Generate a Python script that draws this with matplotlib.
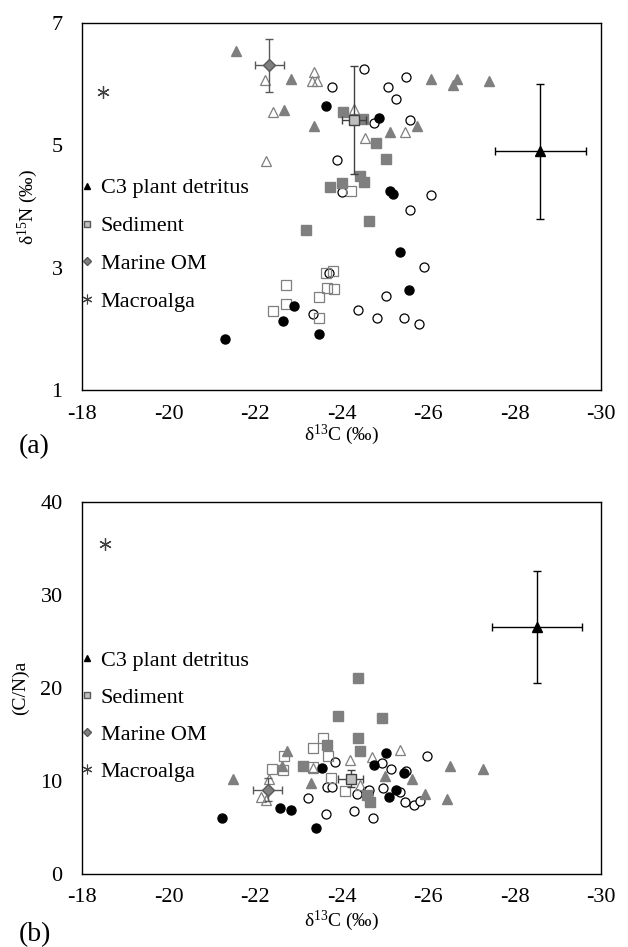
import matplotlib.pyplot as plt
from matplotlib.lines import Line2D

plt.rcParams['font.family'] = ['Liberation Serif', 'DejaVu Serif']
plt.rcParams['mathtext.fontset'] = 'custom'
plt.rcParams['mathtext.rm'] = 'Liberation Serif'
plt.rcParams['mathtext.it'] = 'Liberation Serif:italic'
plt.rcParams['axes.unicode_minus'] = False

# ---- panel (a): d13C vs d15N ----
a_tri_fill_x = [-21.55, -22.83, -22.67, -23.36, -26.06, -26.66, -26.57, -27.41, -25.12, -25.74]
a_tri_fill_y = [6.55, 6.08, 5.57, 5.31, 6.08, 6.09, 5.98, 6.06, 5.22, 5.31]
a_tri_open_x = [-22.22, -23.36, -23.31, -23.43, -22.41, -22.25, -24.29, -25.47, -24.54]
a_tri_open_y = [6.07, 6.20, 6.05, 6.05, 5.54, 4.74, 5.60, 5.22, 5.12]
a_sq_fill_x = [-24.03, -24.49, -24.80, -25.03, -24.43, -24.52, -23.73, -24.00, -24.64, -23.18]
a_sq_fill_y = [5.55, 5.43, 5.04, 4.78, 4.50, 4.40, 4.32, 4.39, 3.77, 3.62]
a_sq_open_x = [-24.21, -23.64, -23.80, -22.72, -23.67, -23.83, -23.47, -22.72, -22.42, -23.47]
a_sq_open_y = [4.26, 2.92, 2.95, 2.71, 2.66, 2.65, 2.52, 2.40, 2.29, 2.17]
a_ci_fill_x = [-23.63, -24.87, -25.12, -25.18, -25.35, -25.55, -22.90, -22.64, -23.49, -21.31]
a_ci_fill_y = [5.65, 5.45, 4.25, 4.21, 3.25, 2.63, 2.37, 2.12, 1.92, 1.83]
a_ci_open_x = [-23.77, -24.51, -25.48, -25.07, -25.25, -24.76, -25.58, -23.89, -24.02, -26.08,
               -25.59, -25.91, -23.70, -25.03, -23.33, -24.39, -24.83, -25.44, -25.79, -24.64]
a_ci_open_y = [5.95, 6.25, 6.11, 5.95, 5.76, 5.37, 5.42, 4.76, 4.24, 4.19,
               3.95, 3.01, 2.92, 2.54, 2.24, 2.30, 2.17, 2.18, 2.08, 3.77]
# end members: x, y, xerr, yerr
a_c3 = [-28.6, 4.9, 1.05, 1.1]
a_sed = [-24.29, 5.41, 0.27, 0.88]
a_mom = [-22.33, 6.31, 0.33, 0.43]
a_alga = [-18.48, 5.87]

# ---- panel (b): d13C vs (C/N)a ----
b_tri_fill_x = [-21.50, -22.75, -22.62, -23.29, -25.00, -25.62, -25.93, -26.43, -26.52, -27.28]
b_tri_fill_y = [10.19, 13.23, 11.63, 9.84, 10.55, 10.27, 8.56, 8.06, 11.63, 11.26]
b_tri_open_x = [-22.33, -22.13, -22.25, -23.35, -24.20, -24.43, -24.70, -25.35]
b_tri_open_y = [10.27, 8.31, 8.00, 11.40, 12.23, 9.56, 12.59, 13.30]
b_sq_fill_x = [-24.37, -23.93, -24.93, -24.39, -23.66, -24.43, -23.12, -24.58, -24.67]
b_sq_fill_y = [21.04, 17.04, 16.79, 14.62, 13.90, 13.19, 11.63, 8.48, 7.70]
b_sq_open_x = [-22.39, -22.66, -22.64, -23.58, -23.35, -23.69, -23.35, -23.75, -24.08]
b_sq_open_y = [11.26, 12.69, 11.16, 14.62, 13.55, 12.69, 11.52, 10.34, 8.91]
b_ci_fill_x = [-21.24, -22.58, -22.83, -23.41, -23.56, -24.75, -25.02, -25.45, -25.25, -25.10]
b_ci_fill_y = [6.06, 7.13, 6.88, 4.95, 11.41, 11.76, 13.02, 10.91, 9.02, 8.31]
b_ci_open_x = [-23.23, -23.66, -23.77, -23.85, -24.35, -24.58, -24.62, -23.64, -24.29, -24.72,
               -25.97, -24.93, -25.14, -25.49, -24.97, -24.64, -25.35, -25.47, -25.68, -25.82]
b_ci_open_y = [8.20, 9.38, 9.38, 12.05, 8.56, 8.91, 8.66, 6.45, 6.77, 5.99,
               12.69, 11.95, 11.34, 11.09, 9.30, 9.02, 8.77, 7.70, 7.41, 7.84]
b_c3 = [-28.52, 26.56, 1.05, 6.0]
b_sed = [-24.21, 10.27, 0.28, 0.9]
b_mom = [-22.29, 9.09, 0.33, 1.2]
b_alga = [-18.53, 35.5]

GRAY = '#7f7f7f'
fig = plt.figure(figsize=(6.28, 9.47), dpi=100)
ax1 = fig.add_axes([0.1306, 0.5882, 0.8264, 0.3875])
ax2 = fig.add_axes([0.1306, 0.077, 0.8264, 0.393])


def draw(ax, d):
    ms = 6.5
    ax.plot(d['ci_open'][0], d['ci_open'][1], 'o', ls='none', mfc='white', mec='black', mew=0.9, ms=ms)
    ax.plot(d['sq_open'][0], d['sq_open'][1], 's', ls='none', mfc='none', mec=GRAY, mew=0.9, ms=ms)
    ax.plot(d['tri_open'][0], d['tri_open'][1], '^', ls='none', mfc='none', mec=GRAY, mew=0.9, ms=ms + 0.5)
    ax.plot(d['sq_fill'][0], d['sq_fill'][1], 's', ls='none', mfc=GRAY, mec=GRAY, ms=ms)
    ax.plot(d['tri_fill'][0], d['tri_fill'][1], '^', ls='none', mfc=GRAY, mec=GRAY, ms=ms)
    ax.plot(d['ci_fill'][0], d['ci_fill'][1], 'o', ls='none', mfc='black', mec='black', ms=ms)
    c3, sed, mom, alga = d['c3'], d['sed'], d['mom'], d['alga']
    ax.errorbar(c3[0], c3[1], xerr=c3[2], yerr=c3[3], fmt='^', color='black', ms=7,
                elinewidth=1, capsize=3, capthick=1)
    ax.errorbar(sed[0], sed[1], xerr=sed[2], yerr=sed[3], fmt='s', mfc='#bfbfbf', mec='#404040',
                ecolor='#404040', ms=7, elinewidth=1, capsize=3, capthick=1)
    ax.errorbar(mom[0], mom[1], xerr=mom[2], yerr=mom[3], fmt='D', mfc=GRAY, mec='#595959',
                ecolor='#595959', ms=6, elinewidth=1, capsize=3, capthick=1)
    ax.plot(alga[0], alga[1], marker=(6, 2, 0), color='#404040', ms=9, mew=0.9, ls='none')
    ax.set_xlim(-18, -30)
    ax.set_xticks([-18, -20, -22, -24, -26, -28, -30])
    ax.tick_params(length=0, labelsize=16)
    ax.tick_params(axis='y', pad=14)
    ax.tick_params(axis='x', pad=d['xpad'])
    for s in ax.spines.values():
        s.set_linewidth(1)
    handles = [
        Line2D([], [], marker='^', ls='none', color='black', ms=5),
        Line2D([], [], marker='s', ls='none', mfc='#bfbfbf', mec='#595959', ms=5),
        Line2D([], [], marker='D', ls='none', mfc=GRAY, mec='#595959', ms=4.5),
        Line2D([], [], marker=(6, 2, 0), ls='none', color='#404040', ms=7, mew=0.8),
    ]
    ax.legend(handles, ['C3 plant detritus', 'Sediment', 'Marine OM', 'Macroalga'],
              loc='center left', bbox_to_anchor=(-0.02, d['leg_y']), frameon=False, fontsize=16,
              handlelength=0.6, handletextpad=0.3, labelspacing=d['leg_sp'], borderaxespad=0)


draw(ax1, dict(tri_fill=(a_tri_fill_x, a_tri_fill_y), tri_open=(a_tri_open_x, a_tri_open_y),
               sq_fill=(a_sq_fill_x, a_sq_fill_y), sq_open=(a_sq_open_x, a_sq_open_y),
               ci_fill=(a_ci_fill_x, a_ci_fill_y), ci_open=(a_ci_open_x, a_ci_open_y),
               c3=a_c3, sed=a_sed, mom=a_mom, alga=a_alga, leg_y=0.395, leg_sp=0.78, xpad=11))
ax1.set_ylim(1, 7)
ax1.set_yticks([1, 3, 5, 7])
ax1.set_ylabel(r'δ$^{15}$N (‰)', fontsize=14, labelpad=8)
ax1.set_xlabel(r'δ$^{13}$C (‰)', fontsize=14, labelpad=-1)

draw(ax2, dict(tri_fill=(b_tri_fill_x, b_tri_fill_y), tri_open=(b_tri_open_x, b_tri_open_y),
               sq_fill=(b_sq_fill_x, b_sq_fill_y), sq_open=(b_sq_open_x, b_sq_open_y),
               ci_fill=(b_ci_fill_x, b_ci_fill_y), ci_open=(b_ci_open_x, b_ci_open_y),
               c3=b_c3, sed=b_sed, mom=b_mom, alga=b_alga, leg_y=0.425, leg_sp=0.74, xpad=10))
ax2.set_ylim(0, 40)
ax2.set_yticks([0, 10, 20, 30, 40])
ax2.set_ylabel('(C/N)a', fontsize=14, labelpad=8)
ax2.set_xlabel(r'δ$^{13}$C (‰)', fontsize=14, labelpad=1)

fig.text(0.03, 0.521, '(a)', fontsize=20)
fig.text(0.03, 0.006, '(b)', fontsize=20)

fig.savefig('out.png', dpi=100)
